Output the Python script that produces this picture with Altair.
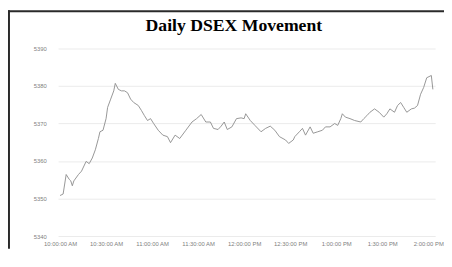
import altair as alt
import pandas as pd

# minutes after 10:00 AM and DSEX index value
minutes = [0, 2, 4, 6, 7, 8, 9, 12, 14, 17, 19, 21, 23, 25, 26, 28, 30, 31, 33, 35,
           36, 38, 40, 42, 44, 46, 48, 51, 53, 55, 57, 59, 61, 64, 67, 70, 72, 75, 78, 82,
           86, 89, 92, 95, 98, 100, 103, 105, 107, 109, 112, 115, 118, 120, 121, 124, 127, 131, 134, 137,
           140, 143, 147, 149, 152, 153, 156, 158, 160, 163, 165, 168, 171, 173, 176, 179, 181, 183, 184, 186,
           189, 192, 196, 198, 200, 202, 205, 208, 211, 213, 215, 218, 220, 222, 224, 226, 229, 231, 233, 235,
           237, 239, 242, 243]
values = [5350.8, 5351.2, 5356.4, 5355.1, 5354.7, 5353.4, 5354.7, 5356.4, 5357.3, 5359.9,
          5359.3, 5360.8, 5363.0, 5366.0, 5367.8, 5368.2, 5371.3, 5374.3, 5376.5, 5378.7,
          5380.7, 5379.1, 5378.7, 5378.7, 5378.2, 5376.5, 5375.6, 5374.8, 5373.5, 5372.1,
          5370.8, 5371.3, 5370.0, 5368.2, 5366.9, 5366.5, 5364.9, 5366.9, 5366.0, 5368.2,
          5370.4, 5371.3, 5372.4, 5370.4, 5370.4, 5368.7, 5368.4, 5369.3, 5370.4, 5368.4,
          5369.1, 5371.3, 5371.5, 5371.3, 5372.6, 5370.8, 5369.5, 5367.8, 5368.7, 5369.3,
          5368.2, 5366.5, 5365.6, 5364.7, 5365.6, 5366.5, 5367.8, 5368.7, 5366.9, 5369.1,
          5367.4, 5367.8, 5368.2, 5369.1, 5369.1, 5370.0, 5369.5, 5371.3, 5372.6, 5371.7,
          5371.3, 5370.8, 5370.4, 5371.3, 5372.1, 5373.0, 5373.9, 5373.0, 5371.7, 5372.6,
          5373.9, 5373.0, 5374.8, 5375.6, 5374.3, 5373.0, 5373.9, 5374.1, 5374.8, 5377.8,
          5379.6, 5382.2, 5382.8, 5379.1]
y_ticks = [5340, 5350, 5360, 5370, 5380, 5390]
x_ticks = [(10, 0), (10, 30), (11, 0), (11, 30), (12, 0), (12, 30), (13, 0), (13, 30), (14, 0)]
title_text = "Daily DSEX Movement"

start = pd.Timestamp("2024-01-01 10:00:00")
df = pd.DataFrame({
    "time": [(start + pd.Timedelta(minutes=m)).strftime("%Y-%m-%dT%H:%M:%S") for m in minutes],
    "value": values,
})


def dt(h, m, s=0):
    return alt.DateTime(year=2024, month=1, date=1, hours=h, minutes=m, seconds=s)


line = alt.Chart(df).mark_line(color="#8a8a8a", strokeWidth=0.9).encode(
    x=alt.X("time:T", title=None,
            scale=alt.Scale(domain=[dt(9, 58, 43), dt(14, 4, 30)]),
            axis=alt.Axis(values=[dt(h, m) for h, m in x_ticks], format="%-I:%M:%S %p",
                          labelPadding=5, grid=False)),
    y=alt.Y("value:Q", title=None,
            scale=alt.Scale(domain=[5340, 5390], nice=False, zero=False),
            axis=alt.Axis(values=y_ticks, format="d", labelPadding=12, grid=True)),
)

frame_data = alt.Data(values=[{}])
top_rule = alt.Chart(frame_data).mark_rule(color="#2a2a2a", strokeWidth=2).encode(
    x=alt.value(-51), x2=alt.value(393), y=alt.value(-38))
left_rule = alt.Chart(frame_data).mark_rule(color="#2a2a2a", strokeWidth=2).encode(
    x=alt.value(-50), y=alt.value(-39), y2=alt.value(204))

chart = alt.layer(line, top_rule, left_rule).properties(
    width=384, height=191,
    autosize=alt.AutoSizeParams(type="none"),
    padding={"left": 51, "top": 39, "right": 9, "bottom": 13},
    title=alt.TitleParams(title_text, font="Liberation Serif", fontSize=18,
                          fontWeight="bold", color="#000000", anchor="middle",
                          frame="group", offset=-26, dx=-13),
).configure_view(stroke=None).configure_axis(
    domain=False, ticks=False, labelFont="Liberation Sans", labelFontSize=6,
    labelColor="#808080", gridColor="#ebebeb", gridWidth=1,
)

chart.save("out.html", embed_options={"renderer": "svg", "actions": False})
